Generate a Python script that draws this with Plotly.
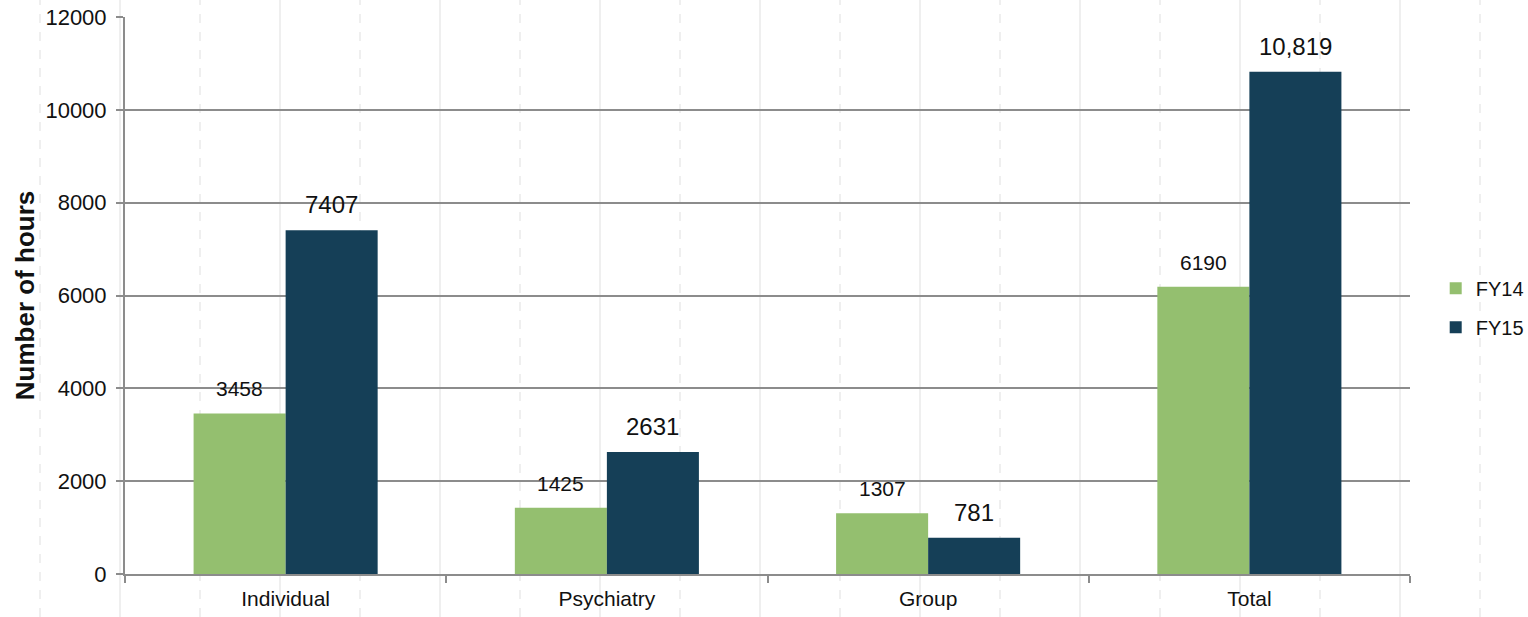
import plotly.graph_objects as go

categories = ["Individual", "Psychiatry", "Group", "Total"]
fy14_values = [3458, 1425, 1307, 6190]
fy15_values = [7407, 2631, 781, 10819]
fy14_labels = ["3458", "1425", "1307", "6190"]
fy15_labels = ["7407", "2631", "781", "10,819"]
y_ticks = [0, 2000, 4000, 6000, 8000, 10000, 12000]

GREEN = "#94BF6F"
NAVY = "#153F57"
FONT = "Liberation Sans, Arial, sans-serif"

W, H = 1528, 617
ML, MR, MT, MB = 125, 118, 17, 43
plot_w = W - ML - MR
plot_h = H - MT - MB

fig = go.Figure()
fig.add_trace(go.Bar(name="FY14", x=categories, y=fy14_values, legendgroup="a",
                     marker=dict(color=GREEN, line=dict(width=0))))
fig.add_trace(go.Bar(name="FY15", x=categories, y=fy15_values, legendgroup="b",
                     marker=dict(color=NAVY, line=dict(width=0))))

bargap = 0.427
bar_px = plot_w / len(categories) * (1 - bargap) / 2
for cat, v, lab in zip(categories, fy14_values, fy14_labels):
    fig.add_annotation(x=cat, y=v, text=lab, showarrow=False, xref="x", yref="y",
                       xshift=-bar_px / 2, yshift=11, yanchor="bottom",
                       font=dict(family=FONT, size=21, color="#111"))
for cat, v, lab in zip(categories, fy15_values, fy15_labels):
    fig.add_annotation(x=cat, y=v, text=lab, showarrow=False, xref="x", yref="y",
                       xshift=bar_px / 2, yshift=10, yanchor="bottom",
                       font=dict(family=FONT, size=24, color="#111"))

# faint background page guides
shapes = []
for k, px in enumerate(range(40, W, 80)):
    xp = (px - ML) / plot_w
    dashed = (k % 2 == 0)
    shapes.append(dict(type="line", xref="paper", yref="paper", layer="below",
                       x0=xp, x1=xp, y0=-MB / plot_h, y1=(H - MB) / plot_h,
                       line=dict(color="#efefef", width=2,
                                 dash="dash" if dashed else "solid")))

fig.update_layout(
    width=W, height=H,
    margin=dict(l=ML, r=MR, t=MT, b=MB, pad=0, autoexpand=False),
    paper_bgcolor="white", plot_bgcolor="rgba(0,0,0,0)",
    barmode="group", bargap=bargap, bargroupgap=0,
    font=dict(family=FONT, size=20, color="#111"),
    shapes=shapes,
    showlegend=True,
    legend=dict(x=1.02, y=0.478, xanchor="left", yanchor="middle",
                font=dict(family=FONT, size=20, color="#111"),
                itemwidth=30, tracegroupgap=10, bgcolor="rgba(0,0,0,0)"),
    xaxis=dict(showgrid=False, showline=True, linecolor="#8c8c8c", linewidth=2,
               ticks="outside", tickson="boundaries", ticklen=7, tickwidth=2,
               tickcolor="#8c8c8c", ticklabelstandoff=5,
               tickfont=dict(size=21, family=FONT, color="#111")),
    yaxis=dict(range=[0, 12000], tickvals=y_ticks, tickformat="d", showgrid=True,
               gridcolor="#8c8c8c", gridwidth=2, zeroline=False,
               showline=True, linecolor="#8c8c8c", linewidth=2,
               ticks="outside", ticklen=7, tickwidth=2, tickcolor="#8c8c8c",
               ticklabelstandoff=5,
               tickfont=dict(size=22, family=FONT, color="#111"),
               title=dict(text="<b>Number of hours</b>", standoff=3,
                          font=dict(size=26, family=FONT, color="#111"))),
)

fig.write_html("out.html")
